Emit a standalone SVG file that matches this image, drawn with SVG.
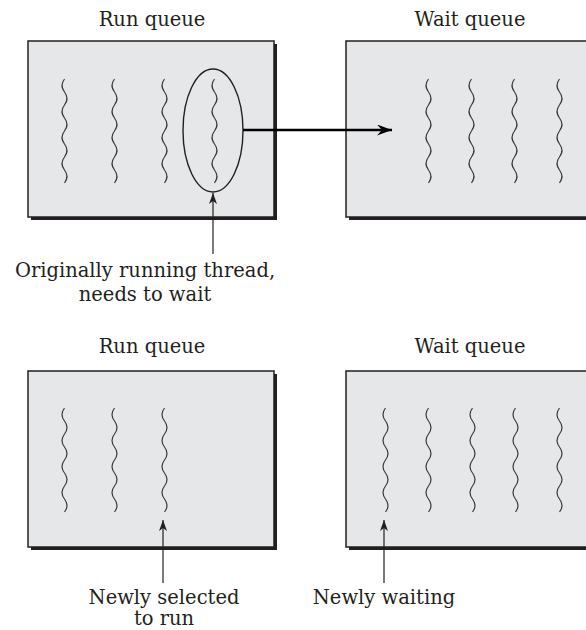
<svg xmlns="http://www.w3.org/2000/svg" xmlns:xlink="http://www.w3.org/1999/xlink" width="586" height="630" viewBox="0 0 586 630">
<style>
  .lbl { font-family: "DejaVu Serif", "Liberation Serif", serif; font-size: 19.5px; fill: #231f20; text-anchor: middle; }
  .box { fill: #e6e7e8; stroke: #231f20; stroke-width: 1.5; }
  .shadow { fill: #231f20; }
  .sq { fill: none; stroke: #3a3a3a; stroke-width: 1.2; }
  .ell { fill: none; stroke: #231f20; stroke-width: 1.4; }
  .thin { stroke: #231f20; stroke-width: 1.2; fill: none; }
  .thick { stroke: #000; stroke-width: 2.4; fill: none; }
</style>
<defs>
  <path id="sq" class="sq" d="M0 0 q-5 6.5 0 13 t0 13 t0 13 t0 13 t0 13 t0 13 t0 13 t0 13"/>
  <marker id="headS" viewBox="-11 -4 11 8" refX="0" refY="0" markerWidth="11" markerHeight="8" markerUnits="userSpaceOnUse" orient="auto">
    <path d="M0 0 L-11 -4 L-8 0 L-11 4 Z" fill="#231f20"/>
  </marker>
  <marker id="headL" viewBox="-15 -5.5 15 11" refX="0" refY="0" markerWidth="15" markerHeight="11" markerUnits="userSpaceOnUse" orient="auto">
    <path d="M0 0 L-15 -5.5 L-10 0 L-15 5.5 Z" fill="#000"/>
  </marker>
</defs>

<g id="run-queue-top">
  <text class="lbl" x="152" y="26">Run queue</text>
  <rect class="shadow" x="31" y="44" width="246" height="176"/>
  <rect class="box" x="28" y="41" width="246" height="176"/>
  <use href="#sq" x="64.5" y="79"/>
  <use href="#sq" x="114.5" y="79"/>
  <use href="#sq" x="164.5" y="79"/>
  <use href="#sq" x="214.5" y="79"/>
  <ellipse class="ell" cx="213" cy="130.5" rx="30" ry="61.5"/>
</g>

<g id="wait-queue-top">
  <text class="lbl" x="470" y="26">Wait queue</text>
  <rect class="shadow" x="349" y="44" width="246" height="176"/>
  <rect class="box" x="346" y="41" width="246" height="176"/>
  <use href="#sq" x="428.5" y="79"/>
  <use href="#sq" x="471.5" y="79"/>
  <use href="#sq" x="514.5" y="79"/>
  <use href="#sq" x="559.5" y="79"/>
</g>

<g id="label-original">
  <text class="lbl" x="145" y="277">Originally running thread,</text>
  <text class="lbl" x="145" y="301">needs to wait</text>
</g>

<g id="run-queue-bottom">
  <text class="lbl" x="152" y="353">Run queue</text>
  <rect class="shadow" x="31" y="374" width="246" height="176"/>
  <rect class="box" x="28" y="371" width="246" height="176"/>
  <use href="#sq" x="64.5" y="408"/>
  <use href="#sq" x="114.5" y="408"/>
  <use href="#sq" x="164.5" y="408"/>
</g>

<g id="wait-queue-bottom">
  <text class="lbl" x="470" y="353">Wait queue</text>
  <rect class="shadow" x="349" y="374" width="246" height="176"/>
  <rect class="box" x="346" y="371" width="246" height="176"/>
  <use href="#sq" x="385.5" y="408"/>
  <use href="#sq" x="428.5" y="408"/>
  <use href="#sq" x="472.5" y="408"/>
  <use href="#sq" x="515.5" y="408"/>
  <use href="#sq" x="559.5" y="408"/>
</g>

<g id="label-selected">
  <text class="lbl" x="164" y="604">Newly selected</text>
  <text class="lbl" x="164" y="625">to run</text>
</g>

<g id="label-waiting">
  <text class="lbl" x="384" y="604">Newly waiting</text>
</g>

<g id="connectors">
  <line class="thick" x1="243" y1="130" x2="392" y2="130" marker-end="url(#headL)"/>
  <line class="thin" x1="213" y1="254" x2="213" y2="193" marker-end="url(#headS)"/>
  <line class="thin" x1="163" y1="583" x2="163" y2="520" marker-end="url(#headS)"/>
  <line class="thin" x1="384" y1="583" x2="384" y2="520" marker-end="url(#headS)"/>
</g>
</svg>
